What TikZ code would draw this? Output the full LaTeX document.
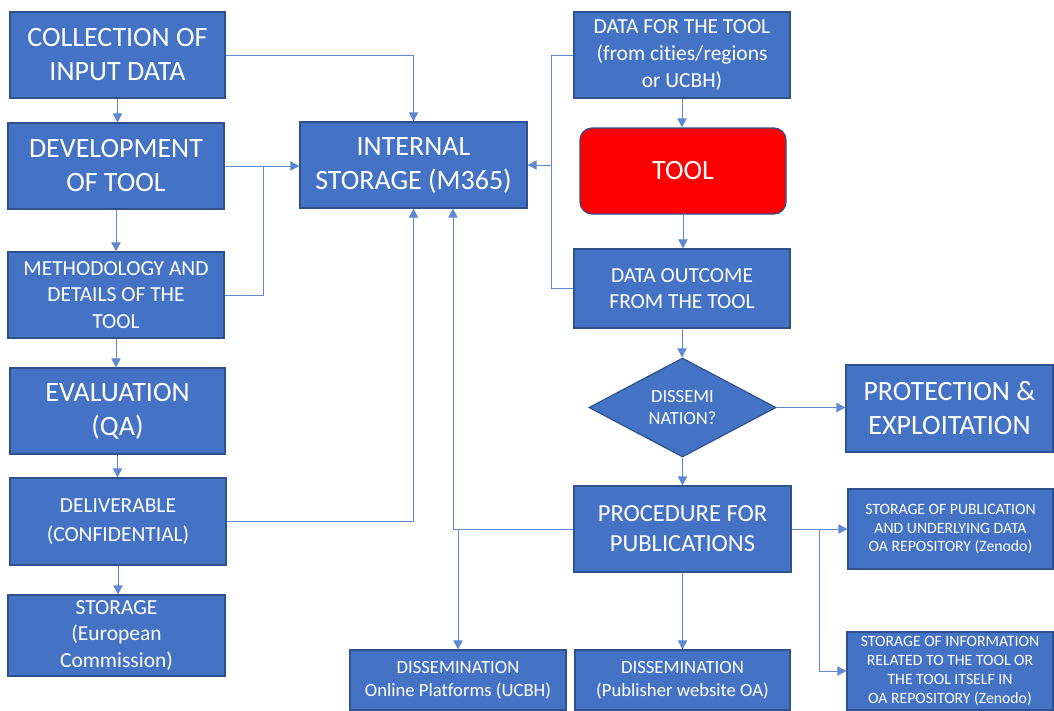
\documentclass[tikz,border=0pt]{standalone}
\usepackage{fontspec}
\setmainfont{Carlito}[Ligatures=NoCommon]
\usetikzlibrary{arrows.meta,shapes.geometric,calc}
\definecolor{boxblue}{HTML}{4472C4}
\definecolor{boxedge}{HTML}{2F528F}
\definecolor{toolred}{HTML}{FF0000}
\definecolor{linkblue}{HTML}{5F89D3}
\tikzset{
  bx/.style={draw=boxedge, fill=boxblue, line width=0.9pt, text=white, align=center, inner sep=0pt},
  redbx/.style={bx, fill=toolred, rounded corners=9pt},
  decbx/.style={bx, diamond, aspect=1.89},
  fbig/.style={font=\fontsize{21}{25.5}\selectfont},
  fproc/.style={font=\fontsize{18.4}{22.5}\selectfont},
  fmed/.style={font=\fontsize{16.1}{20}\selectfont},
  fdis/.style={font=\fontsize{14}{17.25}\selectfont},
  fdec/.style={font=\fontsize{13.9}{16.5}\selectfont},
  fsmall/.style={font=\fontsize{11.8}{14.2}\selectfont},
  ln/.style={draw=linkblue, line width=0.65pt},
  arr/.style={ln, -{Triangle[length=6.75pt,width=7pt]}},
}
\begin{document}
\begin{tikzpicture}[x=0.75pt,y=-0.75pt]
\path[use as bounding box] (0,0) rectangle (1054,711);
% left column
\node[bx,fbig,minimum width=161.25pt,minimum height=64.5pt] (coll) at (117.5,55) {COLLECTION OF\\INPUT DATA};
\node[bx,fbig,minimum width=162pt,minimum height=64.5pt] (dev) at (116,166) {DEVELOPMENT\\OF TOOL};
\node[bx,fmed,minimum width=162pt,minimum height=64.5pt] (meth) at (116,295) {METHODOLOGY AND\\DETAILS OF THE\\TOOL};
\node[bx,fmed,minimum width=161.25pt,minimum height=64.5pt,fbig] (eval) at (117.5,411) {EVALUATION\\(QA)};
\node[bx,font=\fontsize{16.1}{21.5}\selectfont,minimum width=162pt,minimum height=65.25pt] (deliv) at (118,521.5) {DELIVERABLE\\(CONFIDENTIAL)};
\node[bx,fmed,minimum width=162.75pt,minimum height=60.75pt] (stor) at (116.5,635.5) {STORAGE\\(European\\Commission)};
% centre
\node[bx,fbig,minimum width=170.25pt,minimum height=64.5pt] (internal) at (413.5,165) {INTERNAL\\STORAGE (M365)};
\node[bx,fdis,minimum width=162pt,minimum height=45pt] (donl) at (458,680) {DISSEMINATION\\Online Platforms (UCBH)};
% right column
\node[bx,fmed,minimum width=162pt,minimum height=64.5pt] (dft) at (682,55) {DATA FOR THE TOOL\\(from cities/regions\\or UCBH)};
\node[redbx,fbig,minimum width=154.5pt,minimum height=64.5pt] (tool) at (683,171) {TOOL};
\node[bx,fmed,minimum width=162pt,minimum height=59.25pt] (dout) at (682,288.5) {DATA OUTCOME\\FROM THE TOOL};
\node[decbx,fdec,minimum width=140.25pt,minimum height=74.25pt] (dec) at (682.5,407.5) {DISSEMI\\NATION?};
\node[bx,fbig,minimum width=155.25pt,minimum height=65.25pt] (prot) at (949.5,408.5) {PROTECTION \&\\EXPLOITATION};
\node[bx,fproc,minimum width=162.75pt,minimum height=64.5pt] (proc) at (682.5,529) {PROCEDURE FOR\\PUBLICATIONS};
\node[bx,fsmall,minimum width=153.75pt,minimum height=60pt] (spub) at (950.5,529) {STORAGE OF PUBLICATION\\AND UNDERLYING DATA\\OA REPOSITORY (Zenodo)};
\node[bx,fsmall,minimum width=154.5pt,minimum height=58.5pt] (sinfo) at (950,671) {STORAGE OF INFORMATION\\RELATED TO THE TOOL OR\\THE TOOL ITSELF IN\\OA REPOSITORY (Zenodo)};
\node[bx,fdis,minimum width=161.25pt,minimum height=45pt] (dpub) at (682.5,680) {DISSEMINATION\\(Publisher website OA)};
% junctions
\coordinate (jl) at (263,166);
\coordinate (jr) at (551,165);
\coordinate (jp) at (819,529);
% left column arrows
\draw[arr] (coll.south) -- (coll.south |- dev.north);
\draw[arr] (dev.south) -- (dev.south |- meth.north);
\draw[arr] (meth.south) -- (meth.south |- eval.north);
\draw[arr] (eval.south) -- (eval.south |- deliv.north);
\draw[arr] (deliv.south) -- (deliv.south |- stor.north);
% to internal storage
\draw[arr] (coll.east) -| (internal.north);
\draw[arr] (dev.east) -- (dev.east -| internal.west);
\draw[ln] (meth.east) -| (jl);
\draw[arr] (deliv.east) -| (internal.south);
\draw[arr] (proc.west) -| ([xshift=29.6pt]internal.south);
\draw[arr] (donl.north |- proc.west) -- (donl.north);
\draw[ln] (dft.west) -| (jr);
\draw[ln] (dout.west) -| (jr);
\draw[arr] (jr) -- (internal.east);
% right column
\draw[arr] (dft.south) -- (dft.south |- tool.north);
\draw[arr] (tool.south) -- (tool.south |- dout.north);
\draw[arr] (dout.south) -- (dout.south |- dec.north);
\draw[arr] (dec.south) -- (dec.south |- proc.north);
\draw[arr] (dec.east) -- (dec.east -| prot.west);
\draw[arr] (proc.east) -- (spub.west);
\draw[arr] (jp) |- (sinfo.west);
\draw[arr] (proc.south) -- (dpub.north);
\end{tikzpicture}
\end{document}
